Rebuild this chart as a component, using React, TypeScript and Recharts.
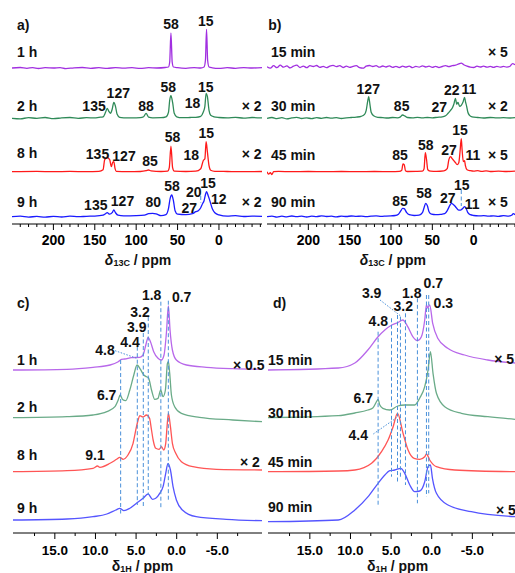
import React from 'react';
import { LineChart, Line, XAxis, YAxis, ReferenceLine, ReferenceDot } from 'recharts';

type Pt = [number, number];
type Pt3 = [number, number, number];
type Lbl = [string, number, number, string?];

// ---------------- Panel a : 13C spectra, [ppm, intensity] ----------------
const a1h: Pt[] = [[250,0],[240,0.5],[232,-0.3],[225,0.4],[218,-0.5],[210,0.3],[200,0],[192,0.4],[185,-0.6],[175,0.2],[165,0.5],[155,-0.3],[145,0.3],[135,-0.4],[125,0.4],[115,-0.2],[105,0.3],[95,-0.4],[85,0.3],[75,0],[65,0.5],[61,1],[59.5,6],[58,35],[56.5,6],[55,1],[50,0.3],[40,-0.3],[30,0.4],[22,0],[18,1],[16.3,8],[15,38.7],[13.7,8],[12,1],[8,0.2],[0,-0.4],[-10,0.3],[-20,-0.3],[-30,0.4],[-40,0],[-52,0.3]];
const a2h: Pt[] = [[250,0],[240,-0.5],[230,0.6],[220,0],[210,0.8],[200,-0.4],[190,0.4],[180,0.8],[170,0],[160,0.6],[150,0.4],[145,1],[140,1.5],[137,6],[135,10],[133,7],[131,5],[129,9],[127,16],[125,12],[123,4],[120,1],[115,0.5],[105,0.4],[95,0.6],[91,1.5],[88,5],[85,1.2],[80,0.5],[70,0.6],[64,1.5],[61,6],[59.5,18],[58,22.6],[56,16],[54,5],[51,1.5],[45,0.6],[35,0.8],[28,1],[22,2],[19,6],[17,12],[15.5,25],[14,22],[12,8],[10,3],[6,1.5],[0,0.8],[-10,0.4],[-20,0.9],[-30,0.2],[-40,0.8],[-52,0.4]];
const a8h: Pt[] = [[250,0],[220,0.3],[200,0],[180,0.3],[160,0],[145,0.3],[140,2],[138,12],[135,14],[132,12],[130,5],[128.5,9],[127,10],[125.5,3],[124,0.3],[110,0],[95,0.2],[88,1],[85,1.7],[82,0.8],[70,0.2],[62,0.5],[60,4],[58,25.5],[56,4],[54,0.5],[40,0.2],[28,0.5],[22,3],[19,11],[17,13],[15.5,30],[14,20],[12,6],[10,1.5],[5,0.4],[-10,0.2],[-30,0],[-52,0.2]];
const a9h: Pt[] = [[250,0],[240,0.5],[230,-0.4],[220,0.3],[210,-0.5],[200,0.4],[190,-0.3],[180,0.5],[170,0],[160,0.4],[150,0.6],[140,1.5],[137,3],[135,4],[132,2.5],[129,4],[127,6.7],[125,4],[122,1.5],[115,0.8],[100,1],[90,1.5],[85,3],[80,3.4],[75,2.5],[70,1],[64,2],[61,8],[59,18],[57,21.7],[55,16],[53,6],[50,2.5],[40,2],[32,3],[28,5],[25,6],[22,9],[20,12.7],[18,16],[16,23],[15,25],[13,21],[11,16],[8,8],[5,4],[0,1.8],[-10,0.5],[-20,1],[-30,0.2],[-40,0.6],[-52,0.4]];

// ---------------- Panel b : 13C spectra ----------------
const b15: Pt[] = [[250,0],[246,-1.5],[242,1],[238,-1],[234,1.5],[230,-0.5],[226,0.8],[222,-1.2],[218,0.5],[214,1.5],[210,-0.8],[206,0.6],[202,-1],[198,1],[194,0.2],[190,1.2],[186,-0.6],[182,0.4],[178,-1],[174,0.6],[170,1.3],[166,0],[162,1],[158,-0.8],[154,0.5],[150,-0.6],[146,0.3],[142,1],[138,-1],[134,-1.5],[130,0.5],[126,1.2],[122,0.2],[118,1],[114,-0.5],[110,0.7],[106,-0.3],[102,0.8],[98,-0.6],[94,0.4],[90,-0.8],[86,0.5],[82,-0.5],[78,0.6],[74,-1],[70,0.3],[66,-0.4],[62,0.8],[58,-0.3],[54,0.5],[50,-0.6],[46,0.4],[42,-0.8],[38,0.2],[34,1],[30,0],[26,1],[22,1.5],[18,2.8],[15,3.5],[12,2],[8,0.5],[4,-0.5],[0,-0.8],[-4,0.5],[-8,-0.3],[-12,0.6],[-16,-0.5],[-20,0.3],[-24,-0.6],[-28,0.4],[-32,-0.5],[-36,0.3],[-40,-0.4],[-44,0.5],[-47,3],[-50,2]];
const b30: Pt[] = [[250,0],[244,0.8],[238,-0.3],[232,0.6],[226,-0.5],[220,0.4],[214,0.9],[208,-0.2],[202,0.5],[196,-0.4],[190,0.6],[184,0],[178,0.8],[172,0.2],[166,0.6],[160,-0.2],[154,0.5],[148,0.8],[142,1.2],[136,2],[132,4],[130,8],[128,18],[127,21.6],[125.5,14],[124,6],[121,2.5],[116,1],[110,0.7],[104,0.3],[98,0.8],[92,0.5],[89,1.2],[86,3.3],[83,2.2],[80,0.8],[74,0.5],[68,0.9],[62,0.4],[56,0.8],[50,0.5],[44,1],[38,1.4],[34,2.5],[31,5],[28,8],[26,10],[24,14],[22,20],[20.5,14],[19,16],[17,12],[15,13],[13,16],[11,21],[10,17],[8.5,12],[7,6],[5,3],[2,1.5],[-5,0.8],[-12,0.3],[-20,0.8],[-28,0.4],[-36,0.6],[-44,0.3],[-50,0.6]];
const b45: Pt[] = [[250,0],[248,-2.5],[246,-1],[244,-2.8],[242,0],[236,0.3],[220,0],[200,0.2],[180,0],[160,0.2],[140,0],[120,0.2],[100,0],[90,0.3],[87,1.5],[85.5,7.7],[84,7],[82.5,1],[80,0.2],[70,0.3],[62,0.5],[60,3],[58.5,19],[57,12],[55.5,2],[52,0.5],[45,0.3],[36,0.8],[32,3],[30,12],[28,15],[26,13],[24,11],[22,9],[20,7],[18,9],[16.5,20],[15,33],[14,22],[12.5,10],[11,11],[10,6],[8,2],[4,1],[0,0.5],[-5,1],[-10,0.3],[-15,0.8],[-20,0.2],[-30,0.6],[-40,0.2],[-50,0.5]];
const b90: Pt[] = [[250,0],[244,0.6],[238,-0.4],[232,0.5],[226,-0.2],[220,0.7],[214,0],[208,0.5],[202,-0.3],[196,0.6],[190,0.1],[184,0.8],[178,0.2],[172,0.5],[166,-0.2],[160,0.6],[154,0.2],[148,0.7],[142,0.3],[136,0.6],[130,0],[124,0.5],[118,0.8],[112,0.3],[106,0.6],[100,0.9],[95,1.2],[91,2.5],[88,6],[86,8.4],[84,8],[81,4],[78,2],[72,1.2],[66,1.5],[62,4],[60,9],[58,13.4],[56,11],[54,5],[51,2.5],[46,2],[40,2.3],[35,3],[32,6],[29,11],[27,13.4],[25,12.5],[22,10],[19,7],[17,6.5],[15,7],[13,8.5],[11,10],[9,8],[7,4],[4,2],[0,1.2],[-6,0.8],[-12,1],[-18,0.5],[-24,0.9],[-30,0.4],[-36,1],[-42,0.6],[-46,1.5],[-48,3],[-50,2]];

// ---------------- Panel c : 1H spectra ----------------
const c1h: Pt[] = [[20.15,0],[13.5,0.7],[10.3,2.7],[8.2,5],[7.2,8.3],[6.8,10.7],[6.4,11],[5.57,12.3],[4.55,12.7],[4.14,15],[3.8,25],[3.52,32.7],[3.23,28.3],[2.83,18.3],[2.3,11.7],[1.88,10],[1.56,15],[1.27,36.7],[1.02,64],[0.82,40],[0.53,20],[0.04,10],[-1.2,5],[-3.65,2.7],[-6.9,1.3],[-10.5,0.7]];
const c2h: Pt[] = [[20.15,0],[13.5,1],[10.3,2.7],[8.6,6],[7.6,11],[7.2,17.7],[6.96,22.7],[6.67,18.3],[6.27,17],[5.77,27.7],[5.28,42.7],[4.88,52.7],[4.46,48.3],[4.05,42.7],[3.72,41],[3.48,40],[3.1,27.7],[2.7,18.3],[2.3,19.3],[1.97,27.7],[1.68,21],[1.39,27.7],[1.14,54.3],[1.02,56],[0.86,44.3],[0.65,22.7],[0.25,11],[-0.58,4.3],[-2.8,0.3],[-6.9,-2.3],[-10.5,-4]];
const c8h: Pt[] = [[20.15,0],[13.5,1],[10.3,3.4],[9.74,5.7],[9.46,4.4],[8.2,8.4],[7.4,12.4],[7.0,14.4],[6.6,12.4],[6.0,16.7],[5.37,28.4],[4.95,45],[4.75,51.7],[4.55,56],[4.14,54.7],[3.72,56.7],[3.35,53.7],[3.1,41.7],[2.9,31.7],[2.58,23.4],[2.17,22.4],[1.88,25],[1.6,21.7],[1.35,28.4],[1.19,45],[1.02,58.4],[0.77,45],[0.53,28.4],[0.12,18.4],[-0.58,10],[-2,5],[-4.9,2.4],[-10.5,1.7]];
const c9h: Pt[] = [[20.15,0],[13.5,1],[10.3,3.3],[8.6,6],[7.5,10],[7.0,11.7],[6.5,9.3],[5.77,11.7],[4.95,16.7],[4.14,21.7],[3.52,26],[2.98,20.7],[2.58,21.7],[2.09,26.7],[1.68,33.3],[1.35,46.7],[1.07,56.7],[0.77,50],[0.45,33.3],[0.04,20],[-0.7,10],[-2.4,3.3],[-6.1,0.7],[-10.5,-0.7]];

// ---------------- Panel d : 1H spectra ----------------
const d15: Pt[] = [[20.15,0],[11.5,2],[9.46,7],[7.86,20],[6.63,33],[5.77,40],[4.91,45],[4.18,47.3],[3.56,50],[2.95,43.3],[2.33,33.3],[1.76,29.3],[1.27,33.3],[0.86,50],[0.65,65],[0.49,62],[0.25,65],[-0.12,46.7],[-0.74,31.7],[-1.97,21.7],[-4.05,15],[-6.9,10],[-10.25,7]];
const d30: Pt[] = [[20.15,0],[11.5,2],[9.46,4.7],[7.86,7.7],[7.25,9.7],[6.82,15.7],[6.6,18.4],[6.39,12.7],[6.02,9.4],[5.16,7.7],[4.18,11.7],[3.32,12.7],[2.09,12.7],[1.47,19.7],[0.86,31],[0.45,47.7],[0.16,66],[-0.16,44.4],[-0.58,24.4],[-1.6,11],[-3.65,4.4],[-6.9,1],[-10.25,-1.6]];
const d45: Pt[] = [[20.15,0],[11.5,0.7],[9.46,1.7],[7.4,8.4],[6.18,20],[5.37,31.7],[4.75,45],[4.21,58.4],[3.53,38.4],[2.91,21.7],[2.17,13.4],[1.47,12.4],[0.86,15],[0.65,17.7],[0.25,11.7],[-0.58,5],[-2.83,1.7],[-10.25,0]];
const d90: Pt[] = [[20.15,0],[11.5,1.7],[9.46,11.7],[7.83,25],[6.6,38.4],[5.77,46.7],[5.16,51],[4.55,51.7],[3.81,53.4],[3.32,48.4],[2.7,36.7],[2.09,30],[1.47,30.7],[0.86,40],[0.45,55],[0.16,56.7],[-0.09,43.4],[-0.58,28.4],[-2,16.7],[-4.88,10],[-10.25,5]];

// ---------------- ticks ----------------
const C13_TICKS = [240,230,220,210,200,190,180,170,160,150,140,130,120,110,100,90,80,70,60,50,40,30,20,10,0,-10,-20,-30,-40,-50];
const C13_LABELS = [200,150,100,50,0];
const H1_TICKS = [17.5,15,12.5,10,7.5,5,2.5,0,-2.5,-5,-7.5];
const H1_LABELS = [15,10,5,0,-5];

// ---------------- annotations: [text, ppm, level, anchor] ----------------
const aLabels: Lbl[] = [
  ['a)',244,199,'start'],
  ['1 h',244,172.3,'start'],['58',57.9,200],['15',16,203.3],
  ['2 h',244,118,'start'],['135',150.9,118],['127',121.6,130.7],['88',88.1,118],['58',61.2,136.7],['18',32,120.7],['15',16,136.7],['× 2',-27.5,118,'start'],
  ['8 h',244,71.3,'start'],['135',146.7,70],['127',114.7,68],['85',83.3,63.3],['58',56.1,87.3],['18',33.4,69],['15',15.3,90.7],['× 2',-27.5,70,'start'],
  ['9 h',244,22.3,'start'],['135',148.8,19],['127',116.5,23],['80',79.3,22.3],['58',56.7,38],['27',35.9,15.7],['20',30.4,32.3],['15',13.2,40.7],['12',0.3,24.7],['× 2',-27.5,22.3,'start'],
];
const bLabels: Lbl[] = [
  ['b)',248.4,199,'start'],
  ['15 min',245.2,172.3,'start'],['× 5',-17.3,172.3,'start'],
  ['30 min',245.2,118,'start'],['127',127.5,134.7],['85',87.1,118],['27',41.6,116.7],['22',26.6,134],['11',5.7,134.7],['× 2',-17.3,118,'start'],
  ['45 min',245.2,69,'start'],['85',89.1,69],['58',58,79],['27',29.8,74],['15',16.5,94],['11',0.8,69],['× 5',-17.3,69,'start'],
  ['90 min',245.2,22.3,'start'],['85',89.1,23],['58',60.1,30.7],['27',31.4,25.7],['15',14.5,39],['11',1.7,20],['× 5',-17.3,22.3,'start'],
];
const cLabels: Lbl[] = [
  ['c)',19.66,229.7,'start'],
  ['1.8',3.08,238],['0.7',-0.61,236.3],['3.2',4.52,221.3],['3.9',4.92,206.3],['4.4',5.75,191],['4.8',8.83,183],
  ['1 h',19.66,173,'start'],['× 0.5',-6.93,168,'start'],
  ['2 h',19.66,126.3,'start'],['6.7',8.62,138],
  ['8 h',19.66,78,'start'],['9.1',10.06,78],['× 2',-7.79,71.3,'start'],
  ['9 h',19.66,24.7,'start'],
];
const dLabels: Lbl[] = [
  ['d)',19.53,229.7,'start'],
  ['3.9',7.39,239.7],['1.8',2.46,240.3],['0.7',-0.2,249.7],['3.2',3.5,227],['0.3',-1.43,230.3],['4.8',6.57,212.3],
  ['15 min',20.15,173,'start'],['× 5',-7.7,174,'start'],
  ['6.7',8.42,134.7],['30 min',20.15,120.3,'start'],
  ['4.4',9.04,98],['45 min',20.15,71.3,'start'],
  ['90 min',20.15,25.7,'start'],['× 5',-7.9,23,'start'],
];

// dashed guides: [ppm, top level, bottom level]
const aDashes: Pt3[] = [[22,28,21]];
const bDashes: Pt3[] = [[15,34,18]];
const cDashes: Pt3[] = [[6.9,173,17],[4.85,186.3,28],[4.11,200,27],[3.5,216,38],[1.95,231.3,25],[1.03,232.3,31]];
const dDashes: Pt3[] = [[6.6,201.3,26.3],[4.95,214.7,56.3],[4.21,218,51.3],[3.85,216.3,55],[3.23,219.7,48],[1.76,234.7,29.7],[0.65,238,36.3],[0.37,238,39.7]];
// leader lines: [ppm1, level1, ppm2, level2]
const cLeaders: number[][] = [[7.59,182.3,4.9,174.7]];
const dLeaders: number[][] = [[6.36,233,3.82,217],[7.19,99,4.19,116]];

// ---------------- styling ----------------
const FONT = '"Liberation Sans", Arial, Helvetica, sans-serif';
const STRONG = ['#a12fe0', '#2f8a58', '#ff1a1a', '#1a1aff'];
const SOFT = ['#b868ea', '#6aab88', '#ff5555', '#5555ff'];
const GUIDE = '#4a90d9';

type PanelCfg = {
  left: number; top: number; width: number; height: number; marginLeft: number; marginRight: number;
  domain: [number, number]; ticks: number[]; tickLabels: number[]; tickDy: number; tickFs: number; decimals: number;
  plotH: number; series: Pt[][]; offsets: number[]; colors: string[];
  labels: Lbl[]; dashes: Pt3[]; leaders: number[][]; title: [number, number]; nucleus: 'C' | 'H';
};

const Panel = ({ cfg }: { cfg: PanelCfg }) => {
  const axisH = cfg.height - cfg.plotH;
  const renderTick = (props: any) => {
    const { x, y, payload } = props;
    const v = payload.value;
    const major = cfg.tickLabels.includes(v);
    return (
      <g>
        <line x1={x} x2={x} y1={y} y2={y + (major ? 6 : 3)} stroke="#000" strokeWidth={1} />
        {major && (
          <text x={x} y={y + cfg.tickDy} textAnchor="middle" dominantBaseline="central" fontSize={cfg.tickFs} fontWeight="bold" fontFamily={FONT} fill="#000">
            {v.toFixed(cfg.decimals)}
          </text>
        )}
      </g>
    );
  };
  return (
    <div style={{ position: 'absolute', left: cfg.left, top: cfg.top }}>
      <LineChart width={cfg.width} height={cfg.height} margin={{ top: 0, right: cfg.marginRight, bottom: 0, left: cfg.marginLeft }}>
        <XAxis type="number" dataKey="x" domain={cfg.domain} reversed allowDataOverflow ticks={cfg.ticks} interval={0}
          height={axisH} tickSize={0} tickMargin={0} tickLine={false} axisLine={{ stroke: '#000', strokeWidth: 1 }} tick={renderTick} />
        <YAxis type="number" domain={[0, cfg.plotH]} hide allowDataOverflow />
        {cfg.series.map((s, i) => (
          <Line key={'s' + i} data={s.map(([x, y]) => ({ x, y: y + cfg.offsets[i] }))} dataKey="y" type="monotone"
            stroke={cfg.colors[i]} strokeWidth={1.3} dot={false} activeDot={false} isAnimationActive={false} />
        ))}
        {cfg.dashes.map(([p, y1, y2], i) => (
          <ReferenceLine key={'d' + i} segment={[{ x: p, y: y1 }, { x: p, y: y2 }]} stroke={GUIDE} strokeWidth={1} strokeDasharray="4 2.5" ifOverflow="visible" />
        ))}
        {cfg.leaders.map(([p1, y1, p2, y2], i) => (
          <ReferenceLine key={'l' + i} segment={[{ x: p1, y: y1 }, { x: p2, y: y2 }]} stroke={GUIDE} strokeWidth={1} strokeDasharray="1.5 1.5" ifOverflow="visible" />
        ))}
        {cfg.labels.map(([t, p, v, anchor], i) => (
          <ReferenceDot key={'t' + i} x={p} y={v} r={0} ifOverflow="visible"
            shape={(sp: any) => (
              <text x={sp.cx} y={sp.cy} textAnchor={anchor || 'middle'} dominantBaseline="central" fontSize={14} fontWeight="bold" fontFamily={FONT} fill="#111">{t}</text>
            )} />
        ))}
        <ReferenceDot x={cfg.title[0]} y={cfg.title[1]} r={0} ifOverflow="visible"
          shape={(sp: any) => (
            <text x={sp.cx} y={sp.cy} textAnchor="middle" dominantBaseline="central" fontSize={14} fontWeight="bold" fontFamily={FONT} fill="#111">
              <tspan fontStyle={cfg.nucleus === 'C' ? 'italic' : 'normal'}>δ</tspan>
              <tspan fontSize={9} dy={3}>{cfg.nucleus === 'C' ? '13C' : '1H'}</tspan>
              <tspan dy={-3}> / ppm</tspan>
            </text>
          )} />
      </LineChart>
    </div>
  );
};

const PANELS: PanelCfg[] = [
  { left: 0, top: 0, width: 262, height: 273, marginLeft: 12, marginRight: 0, domain: [-52, 250], ticks: C13_TICKS, tickLabels: C13_LABELS, tickDy: 15.7, tickFs: 14, decimals: 0,
    plotH: 224, series: [a1h, a2h, a8h, a9h], offsets: [156, 105.7, 52.3, 7.3], colors: STRONG, labels: aLabels, dashes: aDashes, leaders: [], title: [97.8, -36], nucleus: 'C' },
  { left: 255, top: 0, width: 260, height: 273, marginLeft: 12, marginRight: 0, domain: [-50, 250], ticks: C13_TICKS, tickLabels: C13_LABELS, tickDy: 15.7, tickFs: 14, decimals: 0,
    plotH: 224, series: [b15, b30, b45, b90], offsets: [157.3, 105.7, 52.3, 7.3], colors: STRONG, labels: bLabels, dashes: bDashes, leaders: [], title: [97.8, -36], nucleus: 'C' },
  { left: 0, top: 273, width: 282, height: 300, marginLeft: 13, marginRight: 20, domain: [-10.5, 20.15], ticks: H1_TICKS, tickLabels: H1_LABELS, tickDy: 17.5, tickFs: 13.5, decimals: 1,
    plotH: 260, series: [c1h, c2h, c8h, c9h], offsets: [163, 115.3, 61.3, 13], colors: SOFT, labels: cLabels, dashes: cDashes, leaders: cLeaders, title: [4.21, -32.5], nucleus: 'H' },
  { left: 255, top: 273, width: 260, height: 300, marginLeft: 13, marginRight: 0, domain: [-10.25, 20.15], ticks: H1_TICKS, tickLabels: H1_LABELS, tickDy: 17.5, tickFs: 13.5, decimals: 1,
    plotH: 260, series: [d15, d30, d45, d90], offsets: [163, 115.3, 61.3, 11.3], colors: SOFT, labels: dLabels, dashes: dDashes, leaders: dLeaders, title: [4.21, -32.5], nucleus: 'H' },
];

export default function App() {
  return (
    <div style={{ position: 'absolute', left: 0, top: 0, width: 515, height: 573, background: '#fff', overflow: 'hidden' }}>
      {PANELS.map((cfg, i) => <Panel key={i} cfg={cfg} />)}
    </div>
  );
}
